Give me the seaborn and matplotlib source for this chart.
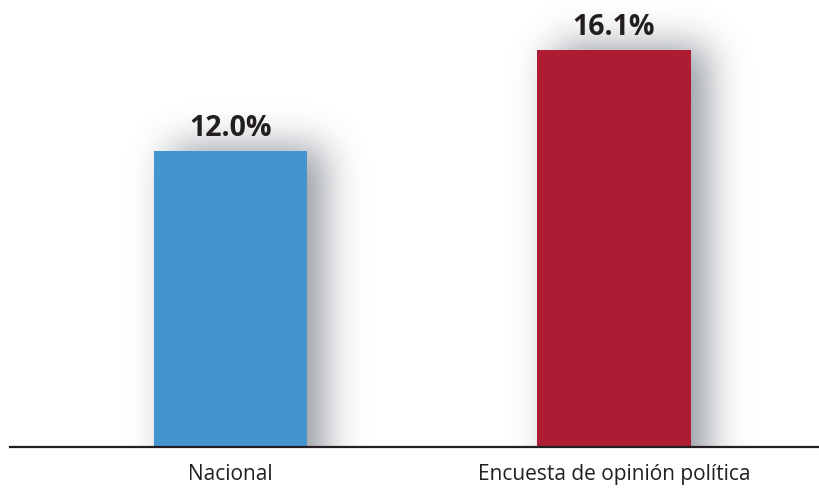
import math
import matplotlib
matplotlib.use("Agg")
import matplotlib.pyplot as plt
import numpy as np
import seaborn as sns

# data
categories = ["Nacional", "Encuesta de opinión política"]
values = [12.0, 16.1]
value_labels = ["12.0%", "16.1%"]
bar_colors = ["#4295cf", "#ad1c33"]

sns.set_theme(style="white")
plt.rcParams["font.family"] = ["Open Sans", "DejaVu Sans"]

fig = plt.figure(figsize=(8.19, 4.88), dpi=100)
ax = fig.add_axes([10 / 819, 41 / 488, 809 / 819, 447 / 488])

sns.barplot(x=categories, y=values, hue=categories, palette=bar_colors,
            width=0.4, saturation=1, legend=False, ax=ax, zorder=3,
            linewidth=0, edgecolor="none")

xlim = (-0.575, 1.535)
ylim = (0, 18.13)
W, H = 809, 447
px_x = (xlim[1] - xlim[0]) / W
px_y = (ylim[1] - ylim[0]) / H

# soft drop shadow: gaussian-blurred copy of each bar, nudged right
erf = np.vectorize(math.erf)
xs = np.arange(W) + 0.5
ys = np.arange(H) + 0.5
shadow = np.zeros((H, W))
sigma = 19.0
k = sigma * math.sqrt(2)
for p in ax.patches:
    a = (p.get_x() - xlim[0]) / px_x + 17
    b = (p.get_x() + p.get_width() - xlim[0]) / px_x + 17
    top = p.get_height() / px_y + 4
    fx = 0.5 * (erf((xs - a) / k) - erf((xs - b) / k))
    fy = 0.5 * (erf((ys + 60) / k) - erf((ys - top) / k))
    shadow = np.maximum(shadow, np.outer(fy, fx))
rgba = np.zeros((H, W, 4))
rgba[..., 0] = 0.30
rgba[..., 1] = 0.33
rgba[..., 2] = 0.38
rgba[..., 3] = 0.6 * shadow
ax.imshow(rgba, extent=(xlim[0], xlim[1], ylim[0], ylim[1]), origin="lower",
          aspect="auto", zorder=1, interpolation="bilinear")

ax.set_xlim(*xlim)
ax.set_ylim(*ylim)

for p, lab in zip(ax.patches, value_labels):
    ax.text(p.get_x() + p.get_width() / 2, p.get_height() + 15 * px_y, lab,
            ha="center", va="baseline", fontsize=20.5, fontweight="bold",
            color="#231f20", zorder=4)

for s in ["top", "left", "right"]:
    ax.spines[s].set_visible(False)
ax.spines["bottom"].set_color("#231f20")
ax.spines["bottom"].set_linewidth(1.6)
ax.spines["bottom"].set_zorder(5)
ax.set_yticks([])
ax.tick_params(axis="x", length=0, pad=12, labelsize=15, labelcolor="#231f20")
ax.set_xlabel("")
ax.set_ylabel("")

fig.savefig("out.png", dpi=100)
